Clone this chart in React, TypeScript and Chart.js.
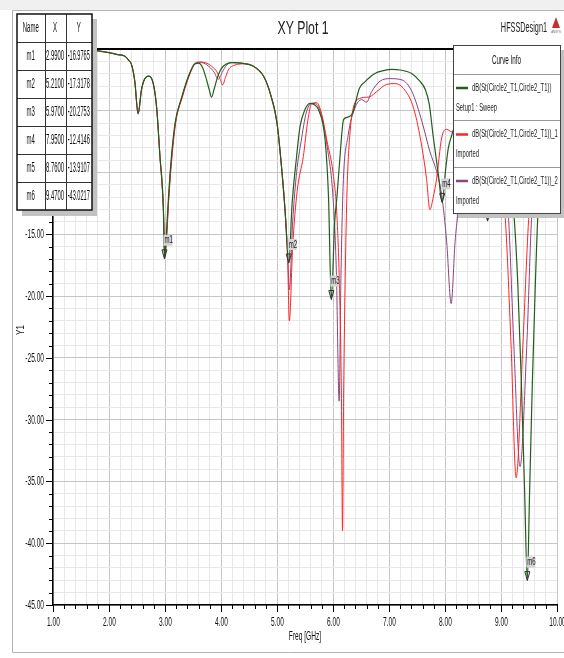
import React, { useEffect, useRef } from "react";
import { Chart, registerables } from "chart.js";

Chart.register(...registerables);

// ---------- data ----------
const greenX = [1.0, 1.5, 1.8, 2.0, 2.15, 2.29, 2.35, 2.405, 2.46, 2.52, 2.58, 2.64, 2.71, 2.79, 2.85, 2.91, 2.97, 2.99, 3.01, 3.06, 3.10, 3.18, 3.30, 3.42, 3.54, 3.60, 3.67, 3.73, 3.79, 3.83, 3.88, 3.93, 3.98, 4.04, 4.19, 4.37, 4.58, 4.76, 4.88, 5.00, 5.08, 5.14, 5.21, 5.27, 5.35, 5.41, 5.50, 5.59, 5.66, 5.74, 5.86, 5.92, 5.97, 6.03, 6.07, 6.12, 6.19, 6.28, 6.35, 6.47, 6.56, 6.74, 6.90, 7.05, 7.20, 7.41, 7.55, 7.65, 7.72, 7.79, 7.88, 7.95, 8.01, 8.06, 8.12, 8.22, 8.36, 8.50, 8.62, 8.70, 8.76, 8.82, 8.92, 9.02, 9.12, 9.23, 9.30, 9.36, 9.42, 9.47, 9.51, 9.56, 9.61, 9.66, 9.75, 9.87, 10.0];
const greenY = [-0.02, -0.05, -0.15, -0.3, -0.45, -0.6, -0.9, -1.3, -2.6, -5.26, -3.3, -2.4, -2.2, -2.8, -4.7, -8.7, -12.8, -16.98, -16.0, -12.2, -9.5, -6.0, -3.9, -2.2, -1.2, -1.15, -1.5, -2.3, -3.3, -3.9, -3.2, -2.4, -1.8, -1.4, -1.1, -1.15, -1.4, -2.2, -3.6, -6.0, -9.5, -12.8, -17.32, -12.5, -8.7, -6.3, -4.9, -4.4, -4.5, -4.9, -7.4, -12.0, -20.28, -14.0, -12.0, -9.0, -5.7, -5.5, -5.2, -3.2, -2.7, -2.0, -1.75, -1.65, -1.7, -2.0, -2.6, -3.3, -4.5, -7.1, -10.1, -12.41, -9.8, -8.0, -7.0, -5.6, -4.6, -5.4, -7.8, -10.5, -13.91, -10.5, -7.2, -6.6, -8.6, -13.3, -19.0, -26.5, -35.5, -43.02, -36.0, -27.0, -19.5, -13.3, -9.0, -6.5, -5.0];

const redX = [1.0, 1.5, 1.8, 2.0, 2.15, 2.29, 2.35, 2.405, 2.46, 2.52, 2.58, 2.64, 2.71, 2.79, 2.85, 2.91, 2.97, 3.0, 3.025, 3.07, 3.11, 3.19, 3.31, 3.43, 3.54, 3.62, 3.77, 3.86, 3.92, 3.98, 4.03, 4.08, 4.13, 4.25, 4.43, 4.58, 4.76, 4.88, 5.00, 5.08, 5.14, 5.19, 5.22, 5.28, 5.36, 5.47, 5.55, 5.62, 5.71, 5.80, 5.89, 6.00, 6.07, 6.12, 6.15, 6.17, 6.19, 6.22, 6.25, 6.30, 6.36, 6.48, 6.60, 6.66, 6.78, 6.96, 7.11, 7.26, 7.44, 7.59, 7.67, 7.73, 7.79, 7.85, 7.94, 8.03, 8.12, 8.25, 8.45, 8.65, 8.85, 9.00, 9.07, 9.18, 9.27, 9.39, 9.50, 9.60, 9.75, 10.0];
const redY = [-0.02, -0.05, -0.15, -0.3, -0.45, -0.6, -0.9, -1.3, -2.6, -5.2, -3.3, -2.4, -2.2, -2.8, -4.7, -8.7, -12.8, -16.6, -15.5, -12.0, -9.5, -6.0, -3.9, -2.2, -1.15, -1.05, -1.2, -1.5, -1.8, -2.4, -2.9, -2.3, -1.7, -1.3, -1.2, -1.4, -2.2, -3.6, -6.0, -9.5, -12.8, -17.0, -22.0, -16.0, -11.5, -8.7, -5.8, -4.4, -4.35, -5.3, -7.4, -10.0, -13.5, -20.0, -28.0, -39.0, -28.0, -18.0, -11.5, -7.0, -4.8, -4.0, -3.9, -3.86, -3.45, -2.86, -2.8, -3.2, -4.8, -8.0, -10.5, -13.0, -12.0, -10.5, -7.2, -6.5, -6.7, -5.8, -5.2, -6.0, -8.5, -11.5, -13.3, -24.0, -34.7, -24.0, -13.3, -9.0, -6.5, -5.0];

const purpleX = [1.0, 1.5, 1.8, 2.0, 2.15, 2.29, 2.35, 2.405, 2.46, 2.52, 2.58, 2.64, 2.71, 2.79, 2.85, 2.91, 2.97, 2.995, 3.02, 3.065, 3.105, 3.185, 3.30, 3.42, 3.54, 3.65, 3.78, 3.88, 3.95, 4.02, 4.10, 4.20, 4.37, 4.58, 4.76, 4.88, 5.00, 5.08, 5.14, 5.19, 5.22, 5.28, 5.35, 5.43, 5.52, 5.62, 5.70, 5.80, 5.90, 6.00, 6.06, 6.11, 6.14, 6.18, 6.27, 6.39, 6.51, 6.60, 6.69, 6.84, 7.02, 7.23, 7.41, 7.59, 7.73, 7.85, 7.94, 8.03, 8.11, 8.18, 8.23, 8.35, 8.50, 8.65, 8.80, 8.95, 9.08, 9.13, 9.23, 9.34, 9.46, 9.55, 9.65, 9.80, 10.0];
const purpleY = [-0.02, -0.05, -0.15, -0.3, -0.45, -0.6, -0.9, -1.3, -2.6, -5.2, -3.3, -2.4, -2.2, -2.8, -4.7, -8.7, -12.8, -16.8, -15.8, -12.1, -9.5, -6.0, -3.9, -2.2, -1.15, -1.1, -1.4, -1.9, -2.45, -1.9, -1.3, -1.1, -1.15, -1.4, -2.2, -3.6, -6.0, -9.5, -12.8, -16.5, -19.5, -14.0, -10.0, -7.5, -5.2, -4.4, -4.45, -5.5, -8.0, -12.0, -18.0, -28.5, -19.0, -11.2, -7.0, -4.8, -4.1, -4.3, -3.45, -2.6, -2.4, -2.5, -3.45, -5.9, -8.3, -9.9, -11.8, -15.6, -20.6, -15.6, -13.3, -8.0, -6.0, -5.8, -7.0, -9.5, -11.5, -13.3, -24.0, -33.8, -24.0, -13.3, -9.0, -6.5, -5.0];

const seriesLabels = [
  "dB(St(Circle2_T1,Circle2_T1))",
  "dB(St(Circle2_T1,Circle2_T1))_1",
  "dB(St(Circle2_T1,Circle2_T1))_2",
];
const seriesSub = ["Setup1 : Sweep", "Imported", "Imported"];
const seriesColors = ["#1f5e1f", "#ff2424", "#8a4480"];

const markerNames = ["m1", "m2", "m3", "m4", "m5", "m6"];
const markerX = [2.99, 5.21, 5.97, 7.95, 8.76, 9.47];
const markerY = [-16.9765, -17.3178, -20.2753, -12.4146, -13.9107, -43.0217];

const xMin = 1;
const xMax = 10;
const yMin = -45;
const yMax = 0;

const FONT = '"Liberation Sans", Arial, sans-serif';

function txt(
  ctx: CanvasRenderingContext2D,
  s: string,
  x: number,
  y: number,
  size: number,
  sq: number,
  align: "left" | "center" | "right" = "left",
  color = "#111"
) {
  ctx.save();
  ctx.font = `${size}px ${FONT}`;
  ctx.fillStyle = color;
  ctx.textBaseline = "middle";
  ctx.textAlign = "left";
  const w = ctx.measureText(s).width * sq;
  let x0 = x;
  if (align === "center") x0 = x - w / 2;
  else if (align === "right") x0 = x - w;
  ctx.translate(x0, y);
  ctx.scale(sq, 1);
  ctx.fillText(s, 0, 0);
  ctx.restore();
}

const isInt = (v: number) => Math.abs(v - Math.round(v)) < 1e-6;
const isFive = (v: number) => Math.abs(v / 5 - Math.round(v / 5)) < 1e-6;

const decorPlugin = {
  id: "decor",
  beforeDraw(chart: any) {
    const ctx = chart.ctx as CanvasRenderingContext2D;
    ctx.save();
    ctx.fillStyle = "#ffffff";
    ctx.fillRect(0, 0, chart.width, chart.height);
    ctx.fillStyle = "#f0f0f0";
    ctx.fillRect(0, 0, chart.width, 10);
    ctx.restore();
  },
  afterDraw(chart: any) {
    const ctx = chart.ctx as CanvasRenderingContext2D;
    const xs = chart.scales.x;
    const ys = chart.scales.y;
    const a = chart.chartArea;

    // tick marks + labels
    ctx.save();
    ctx.strokeStyle = "#000";
    ctx.lineWidth = 1;
    xs.ticks.forEach((t: any) => {
      const v = t.value;
      const major = isInt(v);
      const p = Math.round(xs.getPixelForValue(v)) + 0.5;
      ctx.beginPath();
      ctx.moveTo(p, a.bottom);
      ctx.lineTo(p, a.bottom + (major ? 7 : 4));
      ctx.stroke();
      if (major) txt(ctx, v.toFixed(2), p, a.bottom + 18, 12, 0.55, "center");
    });
    ys.ticks.forEach((t: any) => {
      const v = t.value;
      const major = isFive(v);
      const p = Math.round(ys.getPixelForValue(v)) + 0.5;
      ctx.beginPath();
      ctx.moveTo(a.left, p);
      ctx.lineTo(a.left - (major ? 7 : 4), p);
      ctx.stroke();
      if (major) txt(ctx, v.toFixed(2), a.left - 9, p, 12, 0.55, "right");
    });
    ctx.restore();

    // axis titles
    txt(ctx, "Freq [GHz]", (a.left + a.right) / 2, 637, 12, 0.55, "center");
    ctx.save();
    ctx.translate(21, (a.top + a.bottom) / 2 + 3);
    ctx.rotate(-Math.PI / 2);
    txt(ctx, "Y1", 0, 0, 10, 0.8, "center");
    ctx.restore();

    // markers
    markerNames.forEach((name, i) => {
      const px = xs.getPixelForValue(markerX[i]);
      const py = ys.getPixelForValue(markerY[i]);
      ctx.save();
      ctx.strokeStyle = "#333";
      ctx.lineWidth = 1;
      ctx.beginPath();
      ctx.moveTo(px - 2.5, py - 9);
      ctx.lineTo(px + 2.5, py - 9);
      ctx.lineTo(px, py);
      ctx.closePath();
      ctx.stroke();
      ctx.fillStyle = "#d4d4d4";
      ctx.fillRect(px - 1, py - 24, 9, 11);
      ctx.restore();
      txt(ctx, name, px, py - 18.5, 11, 0.55, "left", "#222");
    });

    // marker table
    const tx = [17, 44.5, 65.5, 92];
    const ty0 = 14;
    const rh = 28;
    const nRows = markerNames.length + 1;
    const tBottom = ty0 + rh * nRows;
    ctx.save();
    ctx.fillStyle = "#c2c2c2";
    ctx.fillRect(tx[3], ty0 + 5, 5, tBottom - ty0);
    ctx.fillRect(tx[0] + 5, tBottom, tx[3] - tx[0], 6);
    ctx.fillStyle = "#fff";
    ctx.fillRect(tx[0], ty0, tx[3] - tx[0], tBottom - ty0);
    ctx.strokeStyle = "#333";
    ctx.lineWidth = 1;
    for (let r = 1; r < nRows; r++) {
      const y = Math.round(ty0 + rh * r) + 0.5;
      ctx.beginPath();
      ctx.moveTo(tx[0], y);
      ctx.lineTo(tx[3], y);
      ctx.stroke();
    }
    for (let c = 1; c < 3; c++) {
      const x = Math.round(tx[c]) + 0.5;
      ctx.beginPath();
      ctx.moveTo(x, ty0);
      ctx.lineTo(x, tBottom);
      ctx.stroke();
    }
    ctx.strokeStyle = "#111";
    ctx.lineWidth = 1.5;
    ctx.strokeRect(tx[0], ty0, tx[3] - tx[0], tBottom - ty0);
    ctx.restore();
    const header = ["Name", "X", "Y"];
    header.forEach((h, c) => txt(ctx, h, (tx[c] + tx[c + 1]) / 2, ty0 + rh / 2, 14, 0.43, "center"));
    markerNames.forEach((n, i) => {
      const cy = ty0 + rh * (i + 1) + rh / 2;
      txt(ctx, n, (tx[0] + tx[1]) / 2, cy, 14, 0.43, "center");
      txt(ctx, markerX[i].toFixed(4), (tx[1] + tx[2]) / 2, cy, 14, 0.42, "center");
      txt(ctx, markerY[i].toFixed(4), (tx[2] + tx[3]) / 2, cy, 14, 0.4, "center");
    });

    // legend box (Curve Info)
    const lx0 = 453, lx1 = 560, ly0 = 45, ly1 = 213;
    ctx.save();
    ctx.fillStyle = "#c2c2c2";
    ctx.fillRect(lx1, ly0 + 5, 5, ly1 - ly0);
    ctx.fillRect(lx0 + 5, ly1, lx1 - lx0, 5);
    ctx.fillStyle = "#fff";
    ctx.fillRect(lx0, ly0, lx1 - lx0, ly1 - ly0);
    ctx.strokeStyle = "#999";
    ctx.lineWidth = 1;
    [74, 120, 167].forEach((y) => {
      ctx.beginPath();
      ctx.moveTo(lx0, y + 0.5);
      ctx.lineTo(lx1, y + 0.5);
      ctx.stroke();
    });
    ctx.strokeStyle = "#444";
    ctx.strokeRect(lx0 + 0.5, ly0 + 0.5, lx1 - lx0, ly1 - ly0);
    ctx.restore();
    txt(ctx, "Curve Info", (lx0 + lx1) / 2, 61, 12, 0.52, "center");
    seriesLabels.forEach((lab, i) => {
      const sy = 88 + 46.5 * i;
      ctx.save();
      ctx.strokeStyle = seriesColors[i];
      ctx.lineWidth = 2.5;
      ctx.beginPath();
      ctx.moveTo(456, sy);
      ctx.lineTo(468, sy);
      ctx.stroke();
      ctx.restore();
      txt(ctx, lab, 472, sy, 10, 0.59, "left", "#222");
      txt(ctx, seriesSub[i], 456, sy + 20, 10, 0.58, "left", "#222");
    });

    // titles
    txt(ctx, "XY Plot 1", 303, 29, 18, 0.68, "center", "#222");
    txt(ctx, "HFSSDesign1", 547, 28, 14, 0.52, "right", "#222");
    ctx.save();
    ctx.fillStyle = "#c8302c";
    ctx.beginPath();
    ctx.moveTo(556, 17);
    ctx.lineTo(552, 28);
    ctx.lineTo(560, 28);
    ctx.closePath();
    ctx.fill();
    ctx.restore();
    txt(ctx, "ANSYS", 556, 32, 4, 0.7, "center", "#666");

    // outer frame
    ctx.save();
    ctx.strokeStyle = "#b4b4b4";
    ctx.lineWidth = 1;
    ctx.beginPath();
    ctx.moveTo(12.5, 10.5);
    ctx.lineTo(564, 10.5);
    ctx.moveTo(12.5, 10.5);
    ctx.lineTo(12.5, 652.5);
    ctx.lineTo(564, 652.5);
    ctx.stroke();
    ctx.restore();
  },
};

const toPts = (xs: number[], ys: number[]) => xs.map((x, i) => ({ x, y: ys[i] }));

export default function App() {
  const ref = useRef<HTMLCanvasElement | null>(null);

  useEffect(() => {
    if (!ref.current) return;
    const chart = new Chart(ref.current, {
      type: "line",
      data: {
        datasets: [
          { label: seriesLabels[0], data: toPts(greenX, greenY), borderColor: seriesColors[0], borderWidth: 1.2 },
          { label: seriesLabels[1], data: toPts(redX, redY), borderColor: seriesColors[1], borderWidth: 1 },
          { label: seriesLabels[2], data: toPts(purpleX, purpleY), borderColor: seriesColors[2], borderWidth: 1 },
        ].map((d) => ({ ...d, pointRadius: 0, fill: false, cubicInterpolationMode: "monotone" as const })),
      },
      options: {
        animation: false,
        responsive: false,
        devicePixelRatio: 1,
        layout: { padding: { top: 49, right: 7, left: 0, bottom: 0 } },
        plugins: { legend: { display: false }, tooltip: { enabled: false }, title: { display: false } },
        scales: {
          x: {
            type: "linear",
            min: xMin,
            max: xMax,
            ticks: { display: false, stepSize: 0.2, autoSkip: false },
            grid: {
              drawTicks: false,
              color: (c: any) => (isInt(c.tick.value) ? "#c6c6c6" : "#e8e8e8"),
              lineWidth: 1,
            },
            border: { display: true, color: "#000", width: 1.5 },
            afterFit: (s: any) => {
              s.height = 53;
              s.paddingLeft = 0;
              s.paddingRight = 0;
            },
          },
          y: {
            type: "linear",
            min: yMin,
            max: yMax,
            ticks: { display: false, stepSize: 1, autoSkip: false },
            grid: {
              drawTicks: false,
              color: (c: any) => (c.tick.value === 0 ? "#000" : isFive(c.tick.value) ? "#c6c6c6" : "#e8e8e8"),
              lineWidth: (c: any) => (c.tick.value === 0 ? 2 : 1),
            },
            border: { display: true, color: "#000", width: 1.5 },
            afterFit: (s: any) => {
              s.width = 53;
              s.paddingTop = 0;
              s.paddingBottom = 0;
            },
          },
        },
      },
      plugins: [decorPlugin],
    });
    return () => chart.destroy();
  }, []);

  return (
    <div style={{ position: "fixed", left: 0, top: 0, width: 564, height: 658, background: "#fff" }}>
      <canvas ref={ref} width={564} height={658} style={{ display: "block" }} />
    </div>
  );
}
